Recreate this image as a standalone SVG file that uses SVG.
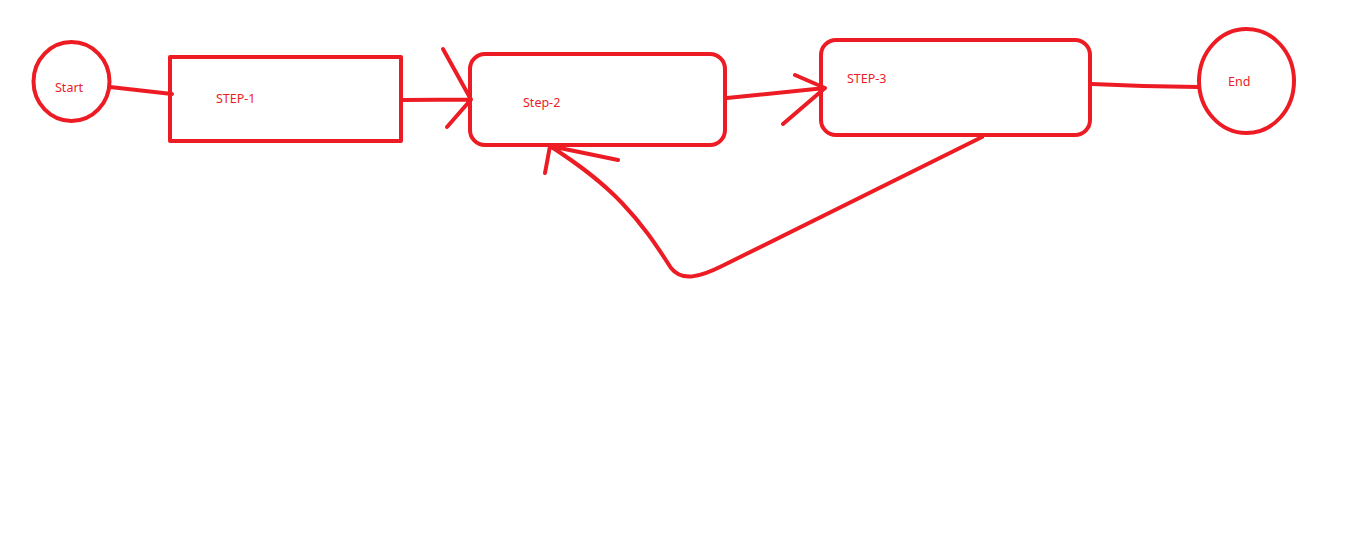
<svg xmlns="http://www.w3.org/2000/svg" width="1360" height="543" viewBox="0 0 1360 543">
<style>
.s{fill:none;stroke:#ED1C24;stroke-width:4;stroke-linecap:round;stroke-linejoin:round}
.t{fill:#ED1C24;font-family:"Noto Sans","Liberation Sans",sans-serif;font-size:12.5px}
</style>
<rect width="1360" height="543" fill="#ffffff"/>
<g id="start">
<ellipse class="s" cx="71.5" cy="81.5" rx="38" ry="39.5"/>
<text class="t" x="55" y="92">Start</text>
</g>
<g id="step1">
<rect class="s" x="170" y="57" width="231" height="84"/>
<text class="t" x="216" y="103">STEP-1</text>
</g>
<g id="step2">
<rect class="s" x="470" y="54" width="255" height="91" rx="15" ry="15"/>
<text class="t" x="523" y="107">Step-2</text>
</g>
<g id="step3">
<rect class="s" x="821" y="40" width="269" height="95" rx="15" ry="15"/>
<text class="t" x="847" y="83">STEP-3</text>
</g>
<g id="end">
<ellipse class="s" cx="1246.5" cy="81" rx="47.5" ry="52"/>
<text class="t" x="1228" y="86">End</text>
</g>
<g id="connectors">
<path class="s" d="M110 87 L172 94"/>
<path class="s" d="M403 100 L471 99.5 M443 49 L471 99.5 L447 127"/>
<path class="s" d="M727 98 L825 88 M795 75 L825 88 L783 124"/>
<path class="s" d="M1092 84 L1143 86 L1198 87"/>
<path class="s" d="M982 137 L722 266 C700 277 682 282 671 268 C655 243 642 224 622 203 C600 180 578 164 550 146 M618 160 L550 146 L545 173"/>
</g>
</svg>
